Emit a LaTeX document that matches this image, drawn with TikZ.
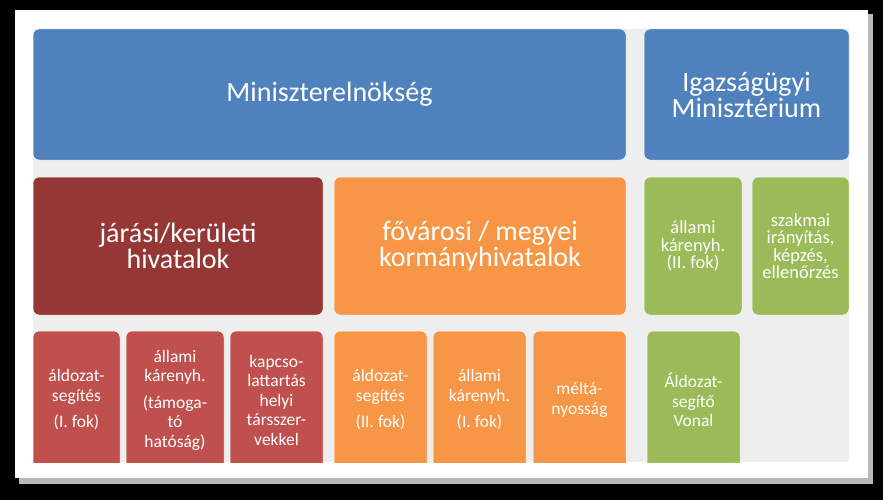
\documentclass[tikz,border=0pt]{standalone}
\usepackage{fontspec}
\setmainfont{Carlito}
\usepackage{tikz}
\usepackage{xcolor}
\definecolor{pmblue}{HTML}{4F81BD}
\definecolor{hivred}{HTML}{953735}
\definecolor{hivredlight}{HTML}{C0504D}
\definecolor{kormorange}{HTML}{F79646}
\definecolor{imgreen}{HTML}{9BBB59}
\definecolor{panelgray}{HTML}{EEEEEE}

\begin{document}
\begin{tikzpicture}[x=1pt, y=-1pt,
	box/.style={draw=white, line width=0.5pt, rounded corners=6pt, text=white, align=center, inner sep=0pt, outer sep=0pt, anchor=north west},
	bigbox/.style={box, font=\fontsize{28}{26}\selectfont},
	midbox/.style={box, font=\fontsize{18.5}{17.5}\selectfont, minimum height=138pt},
	smallbox/.style={box, font=\fontsize{17.5}{19.5}\selectfont, minimum height=138pt}]
\fill[black] (0,0) rectangle (883,500);
\useasboundingbox (0,0) rectangle (883,500);
\fill[gray!55] (19,14) rectangle (873,484);
\fill[white] (15,10) rectangle (868,478);
\fill[panelgray] (33,29) rectangle (849,462);
\begin{scope}
	\clip (33,29) rectangle (849,462);
	\node[bigbox, fill=pmblue, minimum width=593pt, minimum height=131pt] (pm) at (33,29) {Miniszterelnökség};
	\node[bigbox, fill=pmblue, minimum width=205pt, minimum height=131pt] (im) at (644,29) {Igazságügyi\\Minisztérium};
	\node[bigbox, fill=hivred, minimum width=290pt, minimum height=138pt] (jaras) at (33,177) {járási/kerületi\\hivatalok};
	\node[bigbox, fill=kormorange, minimum width=292pt, minimum height=138pt] (korm) at (334,177) {fővárosi / megyei\\kormányhivatalok};
	\node[midbox, fill=imgreen, minimum width=98pt] (imkar) at (644,177) {állami\\kárenyh.\\(II. fok)};
	\node[midbox, fill=imgreen, minimum width=97pt] (imszak) at (752,177) {szakmai\\irányítás,\\képzés,\\ellenőrzés};
	\node[smallbox, fill=hivredlight, minimum width=87pt] (jsegit) at (33,331) {áldozat-\\segítés\\[7pt](I. fok)};
	\node[smallbox, fill=hivredlight, minimum width=98pt] (jkar) at (126,331) {állami\\kárenyh.\\[7pt](támoga-\\tó\\hatóság)};
	\node[smallbox, fill=hivredlight, minimum width=93pt] (jkapcs) at (230,331) {kapcso-\\lattartás\\helyi\\társszer-\\vekkel};
	\node[smallbox, fill=kormorange, minimum width=93pt] (ksegit) at (334,331) {áldozat-\\segítés\\[7pt](II. fok)};
	\node[smallbox, fill=kormorange, minimum width=93pt] (kkar) at (433,331) {állami\\kárenyh.\\[7pt](I. fok)};
	\node[smallbox, fill=kormorange, minimum width=93pt] (kmelt) at (533,331) {méltá-\\nyosság};
	\node[smallbox, fill=imgreen, minimum width=93pt] (imvonal) at (647,331) {Áldozat-\\segítő\\Vonal};
\end{scope}
\end{tikzpicture}
\end{document}
